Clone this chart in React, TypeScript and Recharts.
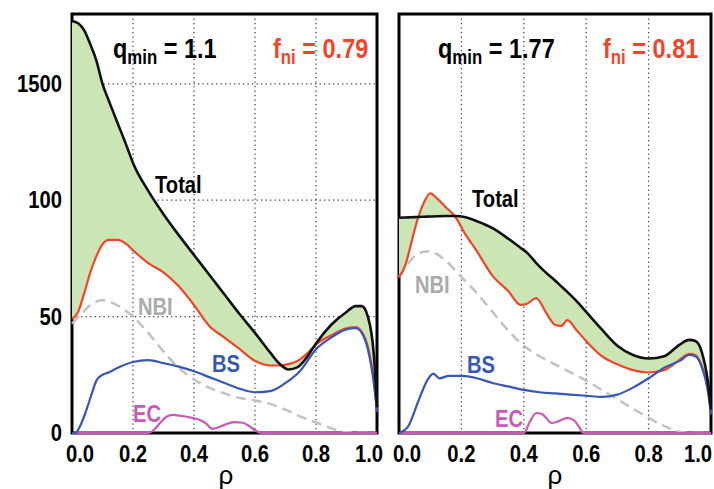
import React from 'react'
import { ComposedChart, Line, Area, XAxis, YAxis, CartesianGrid, ReferenceArea } from 'recharts'

// ρ grid shared by the total current and the non-inductive current (they bound the shaded band)
const leftRho = [0, 0.02, 0.04, 0.06, 0.08, 0.1, 0.12, 0.15, 0.18, 0.2, 0.25, 0.3, 0.35, 0.4, 0.45, 0.5, 0.55, 0.6, 0.65, 0.68, 0.71, 0.74, 0.77, 0.8, 0.85, 0.9, 0.93, 0.95, 0.97, 0.99, 1.0]
const leftTotal = [177, 176, 173, 167, 160, 150, 143, 133, 123, 116, 104, 94, 85, 76.5, 68, 59.5, 51, 43, 34.5, 29.8, 27.3, 28.3, 32.5, 38.5, 46.5, 52, 54.5, 54.5, 50, 33, 11]
const leftNi = [49, 52, 60, 69, 76, 81, 83, 83, 81, 78.5, 73, 69, 63, 55, 46, 41, 36, 31, 29, 29, 29.6, 31, 34, 38, 42, 45, 45.5, 43.5, 37, 22, 10]

const leftBsRho = [0, 0.01, 0.03, 0.05, 0.07, 0.08, 0.1, 0.12, 0.15, 0.2, 0.25, 0.3, 0.35, 0.4, 0.45, 0.5, 0.55, 0.6, 0.65, 0.7, 0.75, 0.8, 0.85, 0.9, 0.93, 0.95, 0.97, 0.99, 1.0]
const leftBs = [0, 0, 4, 11, 19, 22.5, 25, 26, 28, 30.5, 31.3, 30, 28.5, 26.5, 24, 21.5, 19, 17.5, 18, 21.5, 27, 36, 41, 44.5, 45, 43, 36, 21, 9]

const leftNbiRho = [0, 0.03, 0.06, 0.1, 0.13, 0.16, 0.2, 0.25, 0.3, 0.35, 0.4, 0.45, 0.5, 0.55, 0.6, 0.65, 0.7, 0.75, 0.8, 0.85, 0.9, 1.0]
const leftNbi = [47, 51, 55, 57, 56, 54, 50, 43, 35, 28, 23, 19.5, 17, 15, 14, 12.5, 10, 7, 4.5, 2, 0.3, 0]

const leftEcRho = [0, 0.25, 0.27, 0.29, 0.31, 0.33, 0.36, 0.39, 0.42, 0.44, 0.46, 0.48, 0.5, 0.53, 0.56, 0.58, 0.6, 0.62, 1.0]
const leftEc = [0, 0, 1.5, 4.5, 7, 7.8, 7.3, 6.6, 5.6, 4, 1.8, 2.5, 3.5, 4.7, 4.4, 3, 1.2, 0, 0]

const rightRho = [0, 0.02, 0.04, 0.06, 0.08, 0.1, 0.12, 0.15, 0.18, 0.21, 0.25, 0.3, 0.35, 0.39, 0.41, 0.44, 0.47, 0.5, 0.52, 0.54, 0.57, 0.6, 0.65, 0.7, 0.75, 0.8, 0.85, 0.9, 0.93, 0.95, 0.97, 0.99, 1.0]
const rightTotal = [92.5, 92.6, 92.7, 92.8, 92.9, 93, 93.1, 93.2, 93.2, 92.8, 91, 88, 83.5, 79.5, 77.5, 73, 69, 65.5, 63, 60.5, 56.5, 52, 44.5, 37.5, 33.5, 32, 33, 38, 40, 39.5, 35, 22, 10]
const rightNi = [67, 72, 82, 92, 99, 103, 101, 97, 93, 86, 78, 67.5, 61, 55, 55.5, 58, 52, 46.5, 46, 48.5, 44, 39.5, 33, 29.5, 27, 26, 27, 31.5, 34, 33.5, 29, 19, 9]

const rightBsRho = [0, 0.03, 0.06, 0.09, 0.1, 0.11, 0.13, 0.16, 0.2, 0.25, 0.3, 0.35, 0.4, 0.45, 0.5, 0.55, 0.6, 0.65, 0.7, 0.75, 0.8, 0.85, 0.9, 0.93, 0.95, 0.97, 0.99, 1.0]
const rightBs = [0, 3, 13, 22.5, 24.5, 25.5, 23.5, 24.5, 24.5, 23.5, 21.5, 20, 18.5, 17.5, 17, 16.5, 16, 15.5, 16.5, 19.5, 23.5, 28, 31, 33.5, 33, 28.5, 18, 8]

const rightNbiRho = [0, 0.03, 0.06, 0.09, 0.12, 0.15, 0.2, 0.25, 0.3, 0.35, 0.4, 0.45, 0.5, 0.55, 0.6, 0.65, 0.7, 0.75, 0.8, 0.85, 0.9, 0.95, 1.0]
const rightNbi = [67, 73, 77, 78, 77, 74, 67, 60, 52, 44, 37.5, 33, 29.5, 26, 22.5, 18.5, 14.5, 10.5, 6.5, 3, 0.5, 0, 0]

const rightEcRho = [0, 0.4, 0.42, 0.44, 0.46, 0.49, 0.51, 0.54, 0.56, 0.58, 0.59, 1.0]
const rightEc = [0, 0, 5, 8.6, 8, 4.3, 5, 6.5, 5.5, 2, 0, 0]

const xTicks = [0, 0.2, 0.4, 0.6, 0.8, 1.0]
const yTicks = [0, 50, 100, 150]
const yTickLabels = ['0', '50', '100', '1500']

const FONT = '"Liberation Sans", Arial, sans-serif'
const GREEN = '#cce5b5'
const RED = '#f0452b'
const BLUE = '#3658b4'
const GRAY = '#c2c2c2'
const MAGENTA = '#c95ab6'

const band = (rho: number[], total: number[], ni: number[]) =>
  rho.map((r, i) => ({ rho: r, total: total[i], ni: ni[i] }))
const pts = (rho: number[], v: number[]) => rho.map((r, i) => ({ rho: r, v: v[i] }))

// end labels are pulled inwards so neighbouring panels don't collide
const XTick = (props: any) => {
  const { x, y, payload, index, endShift } = props
  const shift = index === 0 ? 8 : index === xTicks.length - 1 ? -endShift : 0
  return (
    <text transform={`translate(${x + shift},${y}) scale(0.88,1)`} textAnchor="middle" dy={29}
      fontSize={23} fontWeight="bold" fontFamily={FONT} fill="#000">
      {payload.value.toFixed(1)}
    </text>
  )
}

const YTick = (props: any) => {
  const { x, y, payload } = props
  const i = yTicks.indexOf(payload.value)
  return (
    <text transform={`translate(${x - 10},${y}) scale(0.88,1)`} textAnchor="end" dy={8}
      fontSize={23} fontWeight="bold" fontFamily={FONT} fill="#000">
      {yTickLabels[i]}
    </text>
  )
}

const NoTick = () => <g />

// condensed bold label
const Label = ({ x, y, size, color, children, sx = 0.84 }: any) => (
  <text transform={`translate(${x},${y}) scale(${sx},1)`} fontSize={size} fontWeight="bold"
    fontFamily={FONT} fill={color}>
    {children}
  </text>
)

interface PanelProps {
  rho: number[]; total: number[]; ni: number[]
  bsRho: number[]; bs: number[]
  nbiRho: number[]; nbi: number[]
  ecRho: number[]; ec: number[]
  width: number
  margin: { top: number; right: number; bottom: number; left: number }
  yLabels: boolean
  endShift: number
}

function Panel(p: PanelProps) {
  const bandData = band(p.rho, p.total, p.ni)
  const tickLine = { stroke: '#000', strokeWidth: 2 }
  return (
    <ComposedChart width={p.width} height={489} margin={p.margin}>
      <CartesianGrid stroke="#444" strokeWidth={1.3} strokeDasharray="1.3 3.2" />
      <XAxis dataKey="rho" type="number" domain={[0, 1]} ticks={xTicks} height={30}
        tick={<XTick endShift={p.endShift} />} tickLine={false} axisLine={false} tickSize={0} tickMargin={0} />
      <XAxis xAxisId="top" orientation="top" type="number" domain={[0, 1]} ticks={xTicks} mirror
        tick={NoTick} tickSize={5} axisLine={false} tickLine={tickLine} />
      <XAxis xAxisId="bot" orientation="bottom" type="number" domain={[0, 1]} ticks={xTicks} mirror
        tick={NoTick} tickSize={5} axisLine={false} tickLine={tickLine} />
      <YAxis type="number" domain={[0, 180]} ticks={yTicks} width={p.yLabels ? 58 : 0}
        tick={p.yLabels ? <YTick /> : false} tickLine={false} axisLine={false} tickSize={0} tickMargin={0} />
      <YAxis yAxisId="l" orientation="left" type="number" domain={[0, 180]} ticks={yTicks} mirror
        tick={NoTick} tickSize={5} axisLine={false} tickLine={tickLine} />
      <YAxis yAxisId="r" orientation="right" type="number" domain={[0, 180]} ticks={yTicks} mirror
        tick={NoTick} tickSize={5} axisLine={false} tickLine={tickLine} />
      <ReferenceArea x1={0} x2={1} y1={0} y2={180} fill="none" stroke="#000" strokeWidth={3} />
      <Area data={bandData} dataKey={(d: any) => [d.ni, d.total]} type="monotone" fill={GREEN}
        fillOpacity={1} stroke="none" isAnimationActive={false} />
      <Line data={pts(p.nbiRho, p.nbi)} dataKey="v" type="monotone" stroke={GRAY} strokeWidth={2.5}
        strokeDasharray="10 6" dot={false} isAnimationActive={false} />
      <Line data={pts(p.ecRho, p.ec)} dataKey="v" type="monotone" stroke={MAGENTA} strokeWidth={2.2}
        dot={false} isAnimationActive={false} />
      <Line data={bandData} dataKey="ni" type="monotone" stroke={RED} strokeWidth={2.2}
        dot={false} isAnimationActive={false} />
      <Line data={pts(p.bsRho, p.bs)} dataKey="v" type="monotone" stroke={BLUE} strokeWidth={2.2}
        dot={false} isAnimationActive={false} />
      <Line data={bandData} dataKey="total" type="monotone" stroke="#111" strokeWidth={2.6}
        dot={false} isAnimationActive={false} />
    </ComposedChart>
  )
}

export default function App() {
  return (
    <div style={{ position: 'absolute', left: 0, top: 0, width: 714, height: 489, background: '#fff' }}>
      <div style={{ position: 'absolute', left: 0, top: 0 }}>
        <Panel rho={leftRho} total={leftTotal} ni={leftNi} bsRho={leftBsRho} bs={leftBs}
          nbiRho={leftNbiRho} nbi={leftNbi} ecRho={leftEcRho} ec={leftEc}
          width={390} margin={{ top: 14, right: 13, bottom: 26, left: 14 }} yLabels endShift={8} />
      </div>
      <div style={{ position: 'absolute', left: 390, top: 0 }}>
        <Panel rho={rightRho} total={rightTotal} ni={rightNi} bsRho={rightBsRho} bs={rightBs}
          nbiRho={rightNbiRho} nbi={rightNbi} ecRho={rightEcRho} ec={rightEc}
          width={324} margin={{ top: 14, right: 3, bottom: 26, left: 9 }} yLabels={false} endShift={12} />
      </div>
      <svg width={714} height={489} style={{ position: 'absolute', left: 0, top: 0, pointerEvents: 'none' }}>
        <Label x={113} y={58} size={28} color="#000">
          q<tspan fontSize={20} dy={6}>min</tspan><tspan dy={-6}> = 1.1</tspan>
        </Label>
        <Label x={273} y={58} size={28} color={RED}>
          f<tspan fontSize={20} dy={6}>ni</tspan><tspan dy={-6}> = 0.79</tspan>
        </Label>
        <Label x={438} y={58} size={28} color="#000">
          q<tspan fontSize={20} dy={6}>min</tspan><tspan dy={-6}> = 1.77</tspan>
        </Label>
        <Label x={603} y={58} size={28} color={RED}>
          f<tspan fontSize={20} dy={6}>ni</tspan><tspan dy={-6}> = 0.81</tspan>
        </Label>
        <Label x={155} y={193} size={24} color="#000">Total</Label>
        <Label x={472} y={207} size={24} color="#000">Total</Label>
        <Label x={138} y={315} size={24} color="#a7abab">NBI</Label>
        <Label x={415} y={293} size={24} color="#a7abab">NBI</Label>
        <Label x={212} y={372} size={24} color={BLUE}>BS</Label>
        <Label x={467} y={373} size={24} color={BLUE}>BS</Label>
        <Label x={133} y={422} size={24} color={MAGENTA}>EC</Label>
        <Label x={495} y={427} size={24} color={MAGENTA}>EC</Label>
        <text x={226} y={484} textAnchor="middle" fontSize={26} fontFamily={FONT} fill="#000">ρ</text>
        <text x={555} y={484} textAnchor="middle" fontSize={26} fontFamily={FONT} fill="#000">ρ</text>
      </svg>
    </div>
  )
}
